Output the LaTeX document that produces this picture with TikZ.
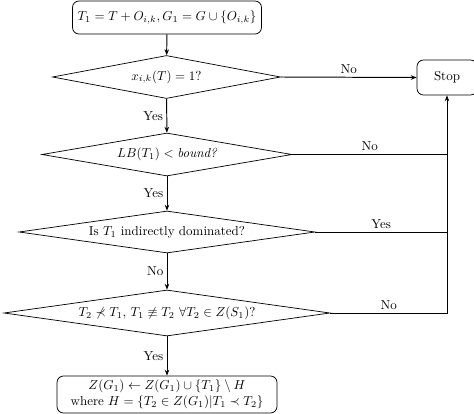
\documentclass[tikz,border=0pt]{standalone}
\usetikzlibrary{shapes.geometric,arrows.meta}
\begin{document}
\begin{tikzpicture}[x=0.77pt,y=-0.77pt,
  dec/.style={diamond, draw, line width=0.55pt, inner sep=0pt, aspect=5},
  box/.style={rectangle, rounded corners=5pt, draw, line width=0.55pt, inner sep=2pt},
  conn/.style={line width=0.75pt, -{Stealth[length=4.5pt,width=3.5pt]}},
  plain/.style={line width=0.75pt},
  lab/.style={inner sep=2.5pt}]
\useasboundingbox (0,0) rectangle (474,414);
\def\u{0.77pt}
\node[box, minimum width={189*\u}, minimum height={33*\u}] (start) at (167,17.5)
  {$T_1 = T + O_{i,k}, G_1 = G \cup \{O_{i,k}\}$};
\node[dec, minimum width={228*\u}, minimum height={43*\u}] (d1) at (166.5,77)
  {\makebox[0pt]{$x_{i,k}(T) = 1?$}};
\node[box, minimum width={60*\u}, minimum height={35*\u}] (stop) at (447,77.5) {Stop};
\node[dec, minimum width={250*\u}, minimum height={43*\u}] (d2) at (167,154.5)
  {\makebox[0pt]{$LB(T_1) < \textit{bound?}$}};
\node[dec, minimum width={296*\u}, minimum height={42*\u}] (d3) at (167,232)
  {\makebox[0pt]{Is $T_1$ indirectly dominated?}};
\node[dec, minimum width={326*\u}, minimum height={46*\u}] (d4) at (167,313)
  {\makebox[0pt]{$T_2 \not\prec T_1,\, T_1 \not\equiv T_2\ \forall T_2 \in Z(S_1)$?}};
\node[box, minimum width={220*\u}, minimum height={37*\u}, align=center, inner sep=1pt] (upd) at (167,394.5)
  {$Z(G_1) \leftarrow Z(G_1) \cup \{T_1\} \setminus H$\\
   where $H = \{T_2 \in Z(G_1) | T_1 \prec T_2\}$};
\draw[conn] (start) -- (d1);
\draw[conn] (d1) -- node[lab, left] {Yes} (d2);
\draw[conn] (d2) -- node[lab, left] {Yes} (d3);
\draw[conn] (d3) -- node[lab, left] {No} (d4);
\draw[conn] (d4) -- node[lab, left] {Yes} (upd);
\draw[conn] (d1.east) -- node[lab, above] {No} (stop.west);
\draw[plain] (d2.east) -- node[lab, above] {No} (d2.east -| stop.south);
\draw[plain] (d3.east) -- node[lab, above] {Yes} (d3.east -| stop.south);
\draw[conn] (d4.east) -- node[lab, above] {No} (d4.east -| stop.south) -- (stop.south);
\end{tikzpicture}
\end{document}
